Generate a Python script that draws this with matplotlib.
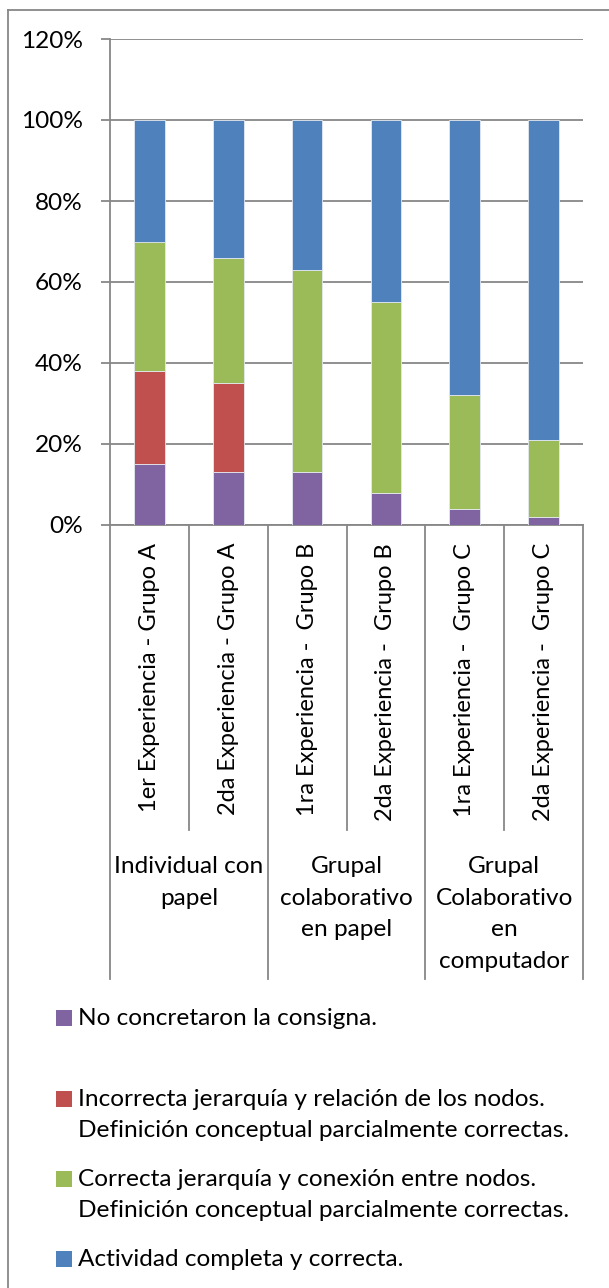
"""Stacked percentage bars: evaluación de mapas conceptuales por experiencia."""

import matplotlib
import matplotlib.pyplot as plt
from matplotlib.lines import Line2D
from matplotlib.patches import Rectangle
from matplotlib.ticker import FuncFormatter, MultipleLocator

matplotlib.use("Agg")

# --- data -----------------------------------------------------------------
categories = [
    "1er Experiencia - Grupo A",
    "2da Experiencia - Grupo A",
    "1ra Experiencia -  Grupo B",
    "2da Experiencia -  Grupo B",
    "1ra Experiencia -  Grupo C",
    "2da Experiencia -  Grupo C",
]
groups = [
    "Individual con\npapel",
    "Grupal\ncolaborativo\nen papel",
    "Grupal\nColaborativo\nen\ncomputador",
]
no_concretaron = [0.15, 0.13, 0.13, 0.08, 0.04, 0.02]
incorrecta = [0.23, 0.22, 0.00, 0.00, 0.00, 0.00]
correcta_parcial = [0.32, 0.31, 0.50, 0.47, 0.28, 0.19]
completa = [0.30, 0.34, 0.37, 0.45, 0.68, 0.79]

series_labels = [
    "No concretaron la consigna.",
    "Incorrecta jerarquía y relación de los nodos.\nDefinición conceptual parcialmente correctas.",
    "Correcta jerarquía y conexión entre nodos.\nDefinición conceptual parcialmente correctas.",
    "Actividad completa y correcta.",
]
series_colors = ["#8064A2", "#C0504D", "#9BBB59", "#4F81BD"]

# --- layout ---------------------------------------------------------------
W, H = 609, 1288
FONT = "Lato"
FS = 17.6
FS_CAT = 17.0
GRID = "#878787"
plt.rcParams["font.family"] = [FONT, "DejaVu Sans"]


def fx(px):
    return px / W


def fy(py):
    return 1 - py / H


fig = plt.figure(figsize=(W / 100, H / 100), dpi=100)
ax = fig.add_axes([fx(110), fy(525), fx(583) - fx(110), fy(39) - fy(525)])

x = list(range(len(categories)))
bottom = [0.0] * len(categories)
for vals, color, label in zip(
    [no_concretaron, incorrecta, correcta_parcial, completa], series_colors, series_labels
):
    ax.bar(x, vals, width=0.39, bottom=bottom, color=color,
           edgecolor="#e4e9f0", linewidth=0.6, zorder=3, label=label)
    bottom = [b + v for b, v in zip(bottom, vals)]

ax.set_xlim(-0.5, len(categories) - 0.5)
ax.set_ylim(0, 1.2)
ax.yaxis.set_major_locator(MultipleLocator(0.2))
ax.yaxis.set_major_formatter(FuncFormatter(lambda v, _: f"{v * 100:.0f}%"))
ax.yaxis.grid(True, color=GRID, linewidth=1.3, zorder=0)
ax.tick_params(axis="y", length=6.5, width=1.3, color=GRID, pad=13,
               labelsize=FS, labelcolor="black")
ax.set_xticks([])
for side in ("top", "right"):
    ax.spines[side].set_visible(False)
for side in ("left", "bottom"):
    ax.spines[side].set_color(GRID)
    ax.spines[side].set_linewidth(1.3)

# category labels (rotated) and separators below the axis
trans = ax.get_xaxis_transform()
axis_h = 525 - 39
for i, cat in enumerate(categories):
    ax.text(i, -(543 - 525) / axis_h, cat, rotation=90, ha="center", va="top",
            fontsize=FS_CAT, transform=trans, clip_on=False)

inner_bottom = -(830 - 525) / axis_h
outer_bottom = -(979 - 525) / axis_h
for b in [-0.5, 0.5, 1.5, 2.5, 3.5, 4.5, 5.5]:
    yb = outer_bottom if (b + 0.5) % 2 == 0 else inner_bottom
    ax.plot([b, b], [0, yb], color=GRID, linewidth=1.3, transform=trans,
            clip_on=False)

for g, name in enumerate(groups):
    ax.text(2 * g + 0.5, -(856 - 525) / axis_h, name, ha="center", va="top",
            fontsize=FS, linespacing=1.63, transform=trans, clip_on=False)

# legend drawn below the plot, first line of each entry beside its swatch
legend_y = [1018, 1099, 1179, 1259]
for ly, color, label in zip(legend_y, series_colors, series_labels):
    fig.add_artist(Rectangle((fx(56), fy(ly + 8)), fx(16), 16 / H,
                             facecolor=color, edgecolor="none"))
    fig.text(fx(78), fy(ly - 10), label, ha="left", va="top", fontsize=FS,
             linespacing=1.6)

# chart frame (right and bottom edges fall outside the picture)
fig.add_artist(Line2D([fx(8), fx(8)], [0, fy(10)], color=GRID, linewidth=1.3))
fig.add_artist(Line2D([fx(8), 1], [fy(10), fy(10)], color=GRID, linewidth=1.3))

fig.savefig("out.png", dpi=100)
plt.close(fig)
